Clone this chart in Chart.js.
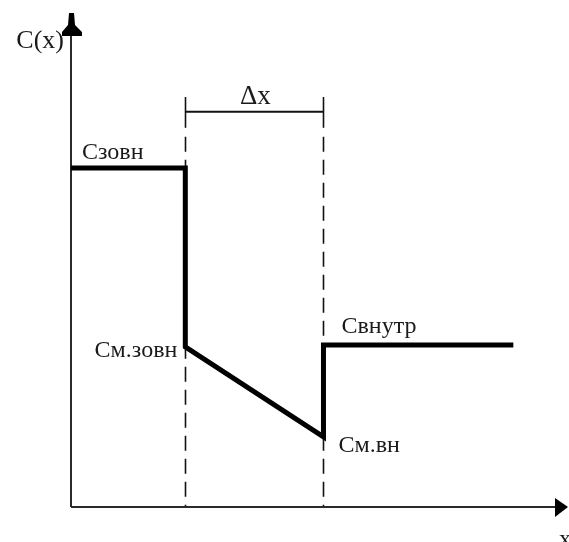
<!DOCTYPE html>
<html>
<head>
<meta charset="utf-8">
<script src="https://cdn.jsdelivr.net/npm/chart.js@4/dist/chart.umd.min.js"></script>
<style>
  html, body { margin: 0; padding: 0; background: #ffffff; }
  canvas { display: block; }
</style>
</head>
<body>
<canvas id="chart" width="569" height="542"></canvas>
<script>
// Concentration profile C(x) across a membrane of thickness Δx
const profileX = [0, 2.3, 2.3, 5.08, 5.08, 8.9];
const profileY = [6.86, 6.86, 3.24, 1.42, 3.28, 3.28];

// Membrane boundaries (x) and the height of the Δx dimension line
const boundaries = [2.3, 5.08];
const bracketLevel = 8.0;
const dashTop = 8.3;

// Axis and level labels
const axisLabels = { y: 'C(x)', x: 'x' };
const levelLabels = ['Сзовн', 'См.зовн', 'См.вн', 'Свнутр'];
const widthLabel = 'Δx';

const SERIF = '"Liberation Serif", "Times New Roman", serif';

const schemePlugin = {
  id: 'scheme',
  beforeDatasetsDraw(chart) {
    const { ctx, chartArea, scales } = chart;
    const xs = scales.x, ys = scales.y;
    const x0 = xs.getPixelForValue(0);
    const y0 = ys.getPixelForValue(0);
    ctx.save();

    // dashed boundaries of the membrane
    const yb = ys.getPixelForValue(bracketLevel);
    const yt = ys.getPixelForValue(dashTop);
    ctx.strokeStyle = '#111';
    ctx.lineWidth = 1.6;
    boundaries.forEach(b => {
      const px = Math.round(xs.getPixelForValue(b)) + 0.5;
      ctx.setLineDash([]);
      ctx.beginPath();
      ctx.moveTo(px, yt);
      ctx.lineTo(px, yb + 16);
      ctx.stroke();
      ctx.setLineDash([15, 8]);
      ctx.beginPath();
      ctx.moveTo(px, yb + 25);
      ctx.lineTo(px, y0);
      ctx.stroke();
    });
    ctx.setLineDash([]);

    // Δx dimension line
    ctx.lineWidth = 2;
    ctx.beginPath();
    ctx.moveTo(xs.getPixelForValue(boundaries[0]), yb);
    ctx.lineTo(xs.getPixelForValue(boundaries[1]), yb);
    ctx.stroke();

    // axes
    ctx.strokeStyle = '#2a2a2a';
    ctx.fillStyle = '#000';
    ctx.lineWidth = 2;
    ctx.beginPath();
    ctx.moveTo(x0, y0);
    ctx.lineTo(x0, chartArea.top + 10);
    ctx.moveTo(x0, y0);
    ctx.lineTo(chartArea.right - 8, y0);
    ctx.stroke();

    // y arrowhead
    const t = chartArea.top;
    ctx.beginPath();
    ctx.moveTo(x0 - 2, t);
    ctx.lineTo(x0 + 3, t);
    ctx.lineTo(x0 + 4, t + 12);
    ctx.lineTo(x0 + 11, t + 19);
    ctx.lineTo(x0 + 11, t + 23);
    ctx.lineTo(x0 - 9, t + 23);
    ctx.lineTo(x0 - 9, t + 19);
    ctx.lineTo(x0 - 3, t + 12);
    ctx.closePath();
    ctx.fill();

    // x arrowhead
    const r = chartArea.right;
    ctx.beginPath();
    ctx.moveTo(r, y0);
    ctx.lineTo(r - 13, y0 - 9);
    ctx.lineTo(r - 13, y0 + 10);
    ctx.closePath();
    ctx.fill();
    ctx.restore();
  },
  afterDatasetsDraw(chart) {
    const { ctx, chartArea, scales } = chart;
    const xs = scales.x, ys = scales.y;
    const x0 = xs.getPixelForValue(0);
    const y0 = ys.getPixelForValue(0);
    ctx.save();
    ctx.fillStyle = '#1a1a1a';
    ctx.textBaseline = 'alphabetic';

    // axis titles
    ctx.font = '26px ' + SERIF;
    ctx.textAlign = 'right';
    ctx.fillText(axisLabels.y, x0 - 7, chartArea.top + 35);
    ctx.font = '24px ' + SERIF;
    ctx.textAlign = 'center';
    ctx.fillText(axisLabels.x, chartArea.right - 3, y0 + 39);

    // level labels anchored to the profile corners
    const px = i => xs.getPixelForValue(profileX[i]);
    const py = i => ys.getPixelForValue(profileY[i]);
    ctx.font = '24px ' + SERIF;
    ctx.textAlign = 'left';
    ctx.fillText(levelLabels[0], px(0) + 11, py(0) - 9);
    ctx.textAlign = 'right';
    ctx.fillText(levelLabels[1], px(2) - 8, py(2) + 10);
    ctx.textAlign = 'left';
    ctx.fillText(levelLabels[2], px(3) + 15, py(3) + 15);
    ctx.fillText(levelLabels[3], px(4) + 18, py(4) - 12);

    // Δx caption
    ctx.font = '27px ' + SERIF;
    ctx.textAlign = 'center';
    const mid = (xs.getPixelForValue(boundaries[0]) + xs.getPixelForValue(boundaries[1])) / 2;
    ctx.fillText(widthLabel, mid + 1, ys.getPixelForValue(bracketLevel) - 8);
    ctx.restore();
  }
};

new Chart(document.getElementById('chart'), {
  type: 'line',
  data: {
    datasets: [{
      data: profileX.map((x, i) => ({ x, y: profileY[i] })),
      borderColor: '#000',
      borderWidth: 5,
      borderJoinStyle: 'miter',
      borderCapStyle: 'butt',
      pointRadius: 0,
      fill: false,
      tension: 0
    }]
  },
  options: {
    responsive: false,
    animation: false,
    devicePixelRatio: 1,
    layout: { padding: { left: 71, right: 1, top: 13, bottom: 35 } },
    scales: {
      x: { type: 'linear', min: 0, max: 10, display: false },
      y: { type: 'linear', min: 0, max: 10, display: false }
    },
    plugins: {
      legend: { display: false },
      tooltip: { enabled: false }
    }
  },
  plugins: [schemePlugin]
});
</script>
</body>
</html>
